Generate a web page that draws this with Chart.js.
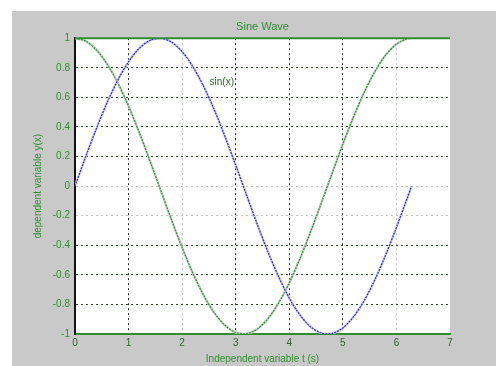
<!DOCTYPE html>
<html>
<head>
<meta charset="utf-8">
<script src="https://cdn.jsdelivr.net/npm/chart.js@4.4.0/dist/chart.umd.min.js"></script>
<style>
  html, body { margin: 0; padding: 0; background: #ffffff; }
  #wrap { position: relative; width: 496px; height: 366px; }
</style>
</head>
<body>
<div id="wrap"><canvas id="chart" width="496" height="366"></canvas></div>
<script>
// t values and the two curves
const tValues = [0, 0.2, 0.4, 0.6, 0.8, 1.0, 1.2, 1.4, 1.6, 1.8, 2.0, 2.2, 2.4, 2.6, 2.8, 3.0,
    3.2, 3.4, 3.6, 3.8, 4.0, 4.2, 4.4, 4.6, 4.8, 5.0, 5.2, 5.4, 5.6, 5.8, 6.0, 6.2, 6.28];
const sinValues = [0, 0.199, 0.389, 0.565, 0.717, 0.841, 0.932, 0.985, 1.0, 0.974, 0.909, 0.808,
    0.675, 0.516, 0.335, 0.141, -0.058, -0.256, -0.443, -0.612, -0.757, -0.872, -0.952, -0.994,
    -0.996, -0.959, -0.883, -0.773, -0.631, -0.465, -0.279, -0.083, -0.003];
const cosValues = [1, 0.98, 0.921, 0.825, 0.697, 0.54, 0.362, 0.17, -0.029, -0.227, -0.416, -0.589,
    -0.737, -0.857, -0.942, -0.99, -0.998, -0.967, -0.897, -0.791, -0.654, -0.49, -0.307, -0.112,
    0.087, 0.284, 0.469, 0.635, 0.776, 0.886, 0.96, 0.997, 1.0];

const xTicks = [0, 1, 2, 3, 4, 5, 6, 7];
const yTicks = [1, 0.8, 0.6, 0.4, 0.2, 0, -0.2, -0.4, -0.6, -0.8, -1];

const chartTitle = 'Sine Wave';
const xLabel = 'Independent variable t (s)';
const yLabel = 'dependent variable y(x)';
const curveLabel = { text: 'sin(x)', x: 2.74, y: 0.70 };

const green = '#2f8f2f';
const font = { family: 'Liberation Sans, Arial, sans-serif', size: 10 };

const toPoints = ys => tValues.map((t, i) => ({ x: t, y: ys[i] }));

// grey figure background, white axes box, green top edge, text label
const backdrop = {
    id: 'backdrop',
    beforeDraw(chart) {
        const { ctx, chartArea: a } = chart;
        ctx.save();
        ctx.fillStyle = '#ffffff';
        ctx.fillRect(0, 0, chart.width, chart.height);
        ctx.fillStyle = '#c9c9c9';
        ctx.fillRect(12, 11, chart.width - 12, chart.height - 11);
        ctx.fillStyle = '#ffffff';
        ctx.fillRect(a.left, a.top, a.right - a.left, a.bottom - a.top);
        ctx.restore();
    },
    afterDraw(chart) {
        const { ctx, chartArea: a, scales } = chart;
        ctx.save();
        ctx.strokeStyle = green;
        ctx.lineWidth = 2;
        ctx.beginPath();
        ctx.moveTo(a.left, a.top);
        ctx.lineTo(a.right, a.top);
        ctx.stroke();
        ctx.fillStyle = '#2d6a2d';
        ctx.font = '10px Liberation Sans, Arial, sans-serif';
        ctx.textAlign = 'center';
        ctx.textBaseline = 'middle';
        ctx.fillText(curveLabel.text, scales.x.getPixelForValue(curveLabel.x), scales.y.getPixelForValue(curveLabel.y));
        ctx.restore();
    }
};

new Chart(document.getElementById('chart'), {
    type: 'line',
    data: {
        datasets: [
            {
                label: 'sin',
                data: toPoints(sinValues),
                borderColor: '#2626ff',
                borderWidth: 1.2,
                borderDash: [2, 1],
                pointRadius: 0,
                tension: 0.3,
                order: 1
            },
            {
                label: 'sin halo',
                data: toPoints(sinValues),
                borderColor: '#d4d4dc',
                borderWidth: 2.5,
                pointRadius: 0,
                tension: 0.3,
                order: 2
            },
            {
                label: 'cos',
                data: toPoints(cosValues),
                borderColor: '#24962a',
                borderWidth: 1.2,
                borderDash: [2, 1],
                pointRadius: 0,
                tension: 0.3,
                order: 3
            },
            {
                label: 'cos halo',
                data: toPoints(cosValues),
                borderColor: '#d2d2d2',
                borderWidth: 2.5,
                pointRadius: 0,
                tension: 0.3,
                order: 4
            }
        ]
    },
    plugins: [backdrop],
    options: {
        responsive: false,
        animation: false,
        layout: { padding: { left: 0, right: 46, top: 0, bottom: 0 } },
        plugins: {
            legend: { display: false },
            tooltip: { enabled: false },
            title: {
                display: true,
                text: chartTitle,
                fullSize: false,
                color: green,
                font: { family: font.family, size: 11, weight: 'normal' },
                padding: { top: 20, bottom: 5 }
            }
        },
        scales: {
            x: {
                type: 'linear',
                min: 0,
                max: 7,
                afterFit: s => { s.height = 32; },
                afterBuildTicks: s => { s.ticks = xTicks.map(v => ({ value: v })); },
                ticks: { color: '#2f5f2f', font, padding: 3 },
                grid: {
                    drawTicks: false,
                    lineWidth: 1,
                    color: c => {
                        const v = c.tick && c.tick.value;
                        if (v === 0 || v === 7) return 'rgba(0,0,0,0)';
                        if (v === 2 || v === 6) return '#c4c4c4';
                        return '#222222';
                    }
                },
                border: { color: green, width: 2, dash: [2, 3] },
                title: {
                    display: true,
                    text: xLabel,
                    color: green,
                    font,
                    padding: { top: 0, bottom: 1 }
                }
            },
            y: {
                min: -1,
                max: 1,
                afterFit: s => { s.width = 75; },
                afterBuildTicks: s => { s.ticks = yTicks.map(v => ({ value: v })); },
                ticks: {
                    color: green,
                    font,
                    padding: 5,
                    callback: v => String(Math.round(v * 10) / 10)
                },
                grid: {
                    drawTicks: false,
                    lineWidth: 1,
                    color: c => {
                        const v = c.tick && c.tick.value;
                        if (v === 1 || v === -1) return 'rgba(0,0,0,0)';
                        if (v === 0 || v === -0.2) return '#c4c4c4';
                        return '#2c4a2c';
                    }
                },
                border: { color: '#111111', width: 2, dash: [2, 3] },
                title: {
                    display: true,
                    text: yLabel,
                    color: green,
                    font,
                    padding: { top: 32, bottom: 0 }
                }
            }
        }
    }
});
</script>
</body>
</html>
